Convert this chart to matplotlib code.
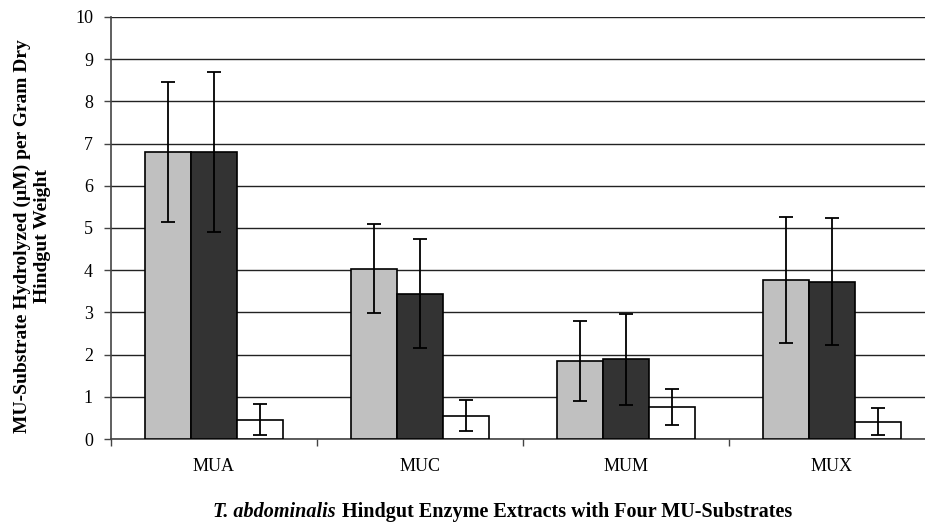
import matplotlib
matplotlib.use("Agg")
import matplotlib.pyplot as plt
import numpy as np

categories = ["MUA", "MUC", "MUM", "MUX"]
series1 = [6.80, 4.04, 1.85, 3.77]
err1 = [1.66, 1.05, 0.94, 1.49]
series2 = [6.80, 3.44, 1.89, 3.73]
err2 = [1.90, 1.29, 1.08, 1.51]
series3 = [0.46, 0.55, 0.76, 0.41]
err3 = [0.36, 0.37, 0.42, 0.32]
yticks = list(range(0, 11))

plt.rcParams['font.family'] = ['Liberation Serif', 'DejaVu Serif']

W, H = 925, 525
fig = plt.figure(figsize=(W / 100, H / 100), dpi=100)
left, right = 111, 935
top, bottom = 17, 439
ax = fig.add_axes([left / W, 1 - bottom / H, (right - left) / W, (bottom - top) / H])

x = np.arange(len(categories))
bw = 0.222
colors = ["#C0C0C0", "#333333", "#FFFFFF"]
for i, (vals, errs) in enumerate([(series1, err1), (series2, err2), (series3, err3)]):
    pos = x + (i - 1) * bw
    ax.bar(pos, vals, width=bw, color=colors[i], edgecolor="black", linewidth=1.2, zorder=3)
    ax.errorbar(pos, vals, yerr=errs, fmt="none", ecolor="black", elinewidth=1.3,
                capsize=5, capthick=1.3, zorder=4)

ax.set_xlim(-0.5, len(categories) - 0.5)
ax.set_ylim(0, 10)
ax.set_yticks(yticks)
ax.set_yticklabels([str(t) for t in yticks], fontsize=13)
ax.yaxis.grid(True, color="#222222", linewidth=1.0, zorder=0)
ax.set_axisbelow(True)
ax.set_xticks(x)
ax.set_xticklabels(categories, fontsize=13)
ax.set_xticks(np.arange(len(categories) + 1) - 0.5, minor=True)
ax.tick_params(axis="x", which="major", length=0, pad=14)
ax.tick_params(axis="x", which="minor", length=5, width=1, color="#444444")
ax.tick_params(axis="y", length=5, width=1, color="#444444", pad=8)
for s in ["top", "right"]:
    ax.spines[s].set_visible(False)
ax.spines["left"].set_color("#444444")
ax.spines["left"].set_linewidth(1.2)
ax.spines["bottom"].set_color("#444444")
ax.spines["bottom"].set_linewidth(1.2)

fig.text(32 / W, 1 - 236 / H,
         "MU-Substrate Hydrolyzed (\u00b5M) per Gram Dry\nHindgut Weight",
         fontsize=14, fontweight="bold", rotation=90, ha="center", va="center",
         multialignment="center", linespacing=1.22)

# xlabel with italic part
t1 = fig.text(213 / W, 1 - 517 / H, "T. abdominalis", fontsize=14.5, fontweight="bold",
              fontstyle="italic", va="baseline", ha="left")
fig.canvas.draw()
bb = t1.get_window_extent()
fig.text((bb.x1 + 6) / W, 1 - 517 / H, "Hindgut Enzyme Extracts with Four MU-Substrates",
         fontsize=14.5, fontweight="bold", va="baseline", ha="left")

fig.savefig("out.png", dpi=100)
